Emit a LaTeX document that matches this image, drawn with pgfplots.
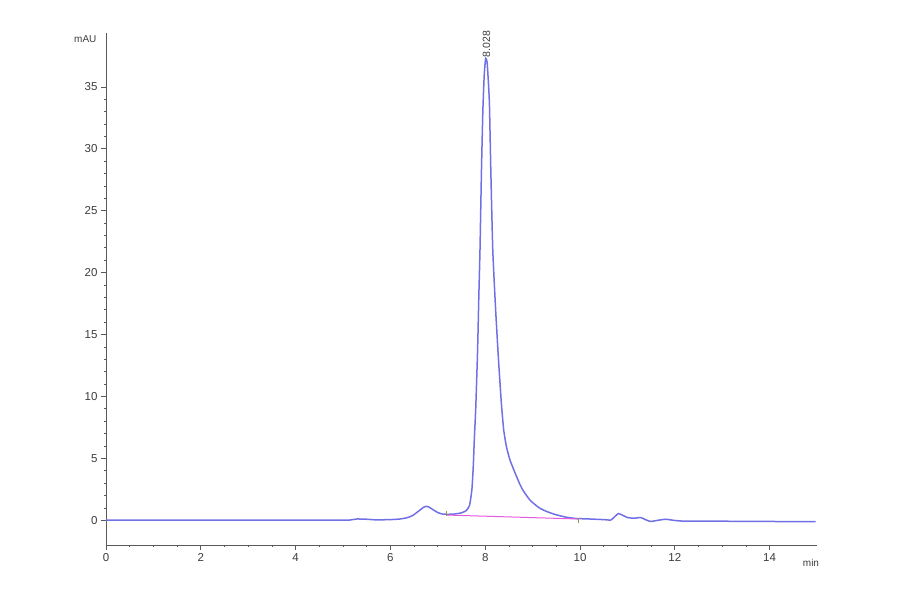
\documentclass[border=0pt]{standalone}
\usepackage{pgfplots}
\pgfplotsset{compat=1.18}
\usepackage{fontspec}
\setmainfont{Liberation Sans}
\definecolor{trace}{RGB}{112,112,230}
\definecolor{axgrey}{RGB}{90,90,90}
\definecolor{txtgrey}{RGB}{60,60,60}
\definecolor{basepink}{RGB}{230,90,220}
\definecolor{evmark}{RGB}{150,150,60}

\begin{document}
\begin{tikzpicture}
\begin{axis}[
  scale only axis,
  width=711pt, height=512pt,
  xmin=0, xmax=15,
  ymin=-2, ymax=39.35,
  axis x line=bottom,
  axis y line=left,
  axis line style={axgrey, line width=0.8pt, -},
  xtick={0,2,...,14},
  ytick={0,5,...,35},
  minor x tick num=3,
  minor y tick num=4,
  tick align=outside,
  major tick length=5pt,
  minor tick length=2.5pt,
  tick style={axgrey, line width=0.7pt},
  ticklabel style={font=\fontsize{11.5}{13}\selectfont, text=txtgrey},
  /pgf/number format/assume math mode=true,
  clip=false,
]
\addplot[trace, line width=1.5pt, smooth, tension=0.3] coordinates {
(0,0) (1,0) (2,0) (3,0) (4,0) (5,0) (5.15,0.02) (5.3,0.1) (5.5,0.08)
(5.7,0.03) (6.0,0.05) (6.2,0.1) (6.35,0.2) (6.47,0.38) (6.6,0.75)
(6.7,1.05) (6.76,1.12) (6.82,1.05) (6.9,0.85) (7.0,0.62) (7.1,0.5)
(7.2,0.48) (7.35,0.5) (7.5,0.6) (7.6,0.78) (7.67,1.2) (7.72,2.5)
(7.75,4.5) (7.77,6.5) (7.8,9) (7.84,13.8) (7.865,18) (7.89,21.8)
(7.92,28) (7.95,33) (7.98,36) (8.01,37.3) (8.04,37.0) (8.07,35.2)
(8.09,33.5) (8.12,28) (8.16,21.8) (8.22,17) (8.28,13) (8.34,9.5)
(8.39,7.3) (8.45,5.9) (8.52,4.9) (8.6,4.1) (8.72,3.0) (8.8,2.4)
(8.95,1.6) (9.14,1.0) (9.3,0.7) (9.49,0.45) (9.7,0.25) (9.92,0.14)
(10.2,0.1) (10.5,0.05) (10.65,0.02) (10.75,0.35) (10.81,0.54) (10.9,0.4)
(11.0,0.22) (11.14,0.16) (11.28,0.22) (11.38,0.05) (11.49,-0.1)
(11.65,0.0) (11.81,0.08) (12.0,-0.02) (12.23,-0.08) (13,-0.08)
(14,-0.1) (14.97,-0.12)
};
\addplot[basepink, line width=1pt] coordinates {(7.18,0.42) (9.96,0.1)};
\addplot[only marks, mark=|, mark size=2.5pt, evmark, mark options={line width=0.8pt}]
  coordinates {(7.18,0.55) (9.96,0.0)};
\node[rotate=90, anchor=west, font=\fontsize{10.5}{12}\selectfont, text=txtgrey,
  inner sep=1pt] at (axis cs:8.03,37.3) {8.028};
\node[anchor=north east, font=\fontsize{10}{12}\selectfont, text=txtgrey]
  at (rel axis cs:0,1) [xshift=-6pt, yshift=1pt] {mAU};
\node[anchor=north, font=\fontsize{10}{12}\selectfont, text=txtgrey]
  at (rel axis cs:1,0) [xshift=-6pt, yshift=-11pt] {min};
\coordinate (ll) at (rel axis cs:0,0);
\coordinate (ur) at (rel axis cs:1,1);
\end{axis}
\path ([xshift=-106pt,yshift=-49pt]ll) rectangle ([xshift=83pt,yshift=33pt]ur);
\end{tikzpicture}
\end{document}
